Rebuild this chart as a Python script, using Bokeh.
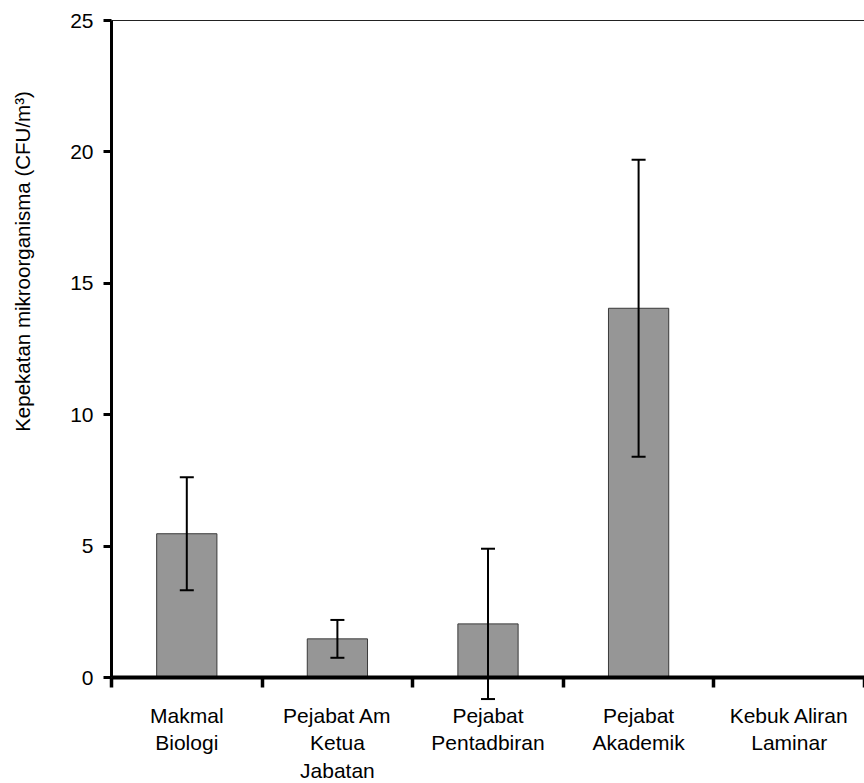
import math
from bokeh.plotting import figure
from bokeh.models import (Range1d, FixedTicker, Whisker, TeeHead, ColumnDataSource, Label)
from bokeh.embed import file_html
from bokeh.resources import INLINE

# ---- data ----
categories = ["Makmal\nBiologi", "Pejabat Am\nKetua\nJabatan", "Pejabat\nPentadbiran",
              "Pejabat\nAkademik", "Kebuk Aliran\nLaminar"]
means = [5.47, 1.47, 2.04, 14.05, 0.0]
errors = [2.15, 0.72, 2.86, 5.65, 0.0]
y_ticks = [0, 5, 10, 15, 20, 25]
y_label = "Kepekatan mikroorganisma (CFU/m³)"

FONT = "Liberation Sans"
n = len(categories)
centers = [i + 0.5 for i in range(n)]
bounds = list(range(n + 1))
y_max = y_ticks[-1]

# layout (pixels): the frame covers the whole canvas, axes are placed at x=0 / y=0
W, H = 864, 783
LEFT, TOP = 111, 20                # pixel column of x = 0, pixel row of y = y_max
ZERO_PX = 677                      # pixel row of y = 0
px_per_y = (ZERO_PX - TOP) / y_max
px_per_x = (W - LEFT) / n
y_lo = -(H - ZERO_PX) / px_per_y
y_hi = y_max + TOP / px_per_y
x_lo = -LEFT / px_per_x

p = figure(width=W, height=H, output_backend="svg", toolbar_location=None,
           x_range=Range1d(x_lo, n), y_range=Range1d(y_lo, y_hi),
           min_border=0, background_fill_color="white", border_fill_color="white")
p.outline_line_color = None
p.xgrid.visible = False
p.ygrid.visible = False

# bars
p.vbar(x=centers, top=means, bottom=0, width=0.4, fill_color="#969696",
       line_color="#3a3a3a", line_width=1)

# top border line of the plot area
p.segment(x0=[0], y0=[y_max], x1=[n], y1=[y_max], line_color="#222222", line_width=1)

# error bars (only where there is an error)
wx = [c for c, e in zip(centers, errors) if e > 0]
wl = [m - e for m, e in zip(means, errors) if e > 0]
wu = [m + e for m, e in zip(means, errors) if e > 0]
src = ColumnDataSource(dict(x=wx, lower=wl, upper=wu))
w = Whisker(base="x", lower="lower", upper="upper", source=src, dimension="height",
            line_color="black", line_width=2, level="overlay",
            upper_head=TeeHead(size=14, line_width=2, line_color="black"),
            lower_head=TeeHead(size=14, line_width=2, line_color="black"))
p.add_layout(w)

# y axis at x = 0
ya = p.yaxis[0]
ya.fixed_location = 0
ya.ticker = FixedTicker(ticks=y_ticks)
ya.bounds = (0, y_max)
ya.axis_line_width = 3
ya.axis_line_color = "black"
ya.major_tick_line_width = 3
ya.major_tick_in = 0
ya.major_tick_out = 8
ya.minor_tick_line_color = None
ya.major_label_standoff = 10
ya.major_label_text_font = FONT
ya.major_label_text_font_size = "21px"
ya.major_label_text_color = "black"

# x axis at y = 0
xa = p.xaxis[0]
xa.fixed_location = 0
xa.bounds = (0, n)
xa.ticker = FixedTicker(ticks=centers, minor_ticks=bounds)
xa.major_label_overrides = {c: lab for c, lab in zip(centers, categories)}
xa.axis_line_width = 4
xa.axis_line_color = "black"
xa.major_tick_line_color = None
xa.major_tick_in = 0
xa.major_tick_out = 10
xa.minor_tick_line_width = 3.5
xa.minor_tick_line_color = "black"
xa.minor_tick_in = 0
xa.minor_tick_out = 10
xa.major_label_standoff = 16
xa.major_label_text_font = FONT
xa.major_label_text_font_size = "21px"
xa.major_label_text_color = "black"

# y axis title, placed like the reference (above the frame centre)
p.add_layout(Label(x=-(LEFT - 22) / px_per_x, y=(ZERO_PX - 261) / px_per_y, text=y_label,
                   angle=math.pi / 2, text_align="center", text_baseline="middle",
                   text_font=FONT, text_font_size="20.5px", text_color="black"))

open("out.html", "w").write(file_html(p, INLINE))
